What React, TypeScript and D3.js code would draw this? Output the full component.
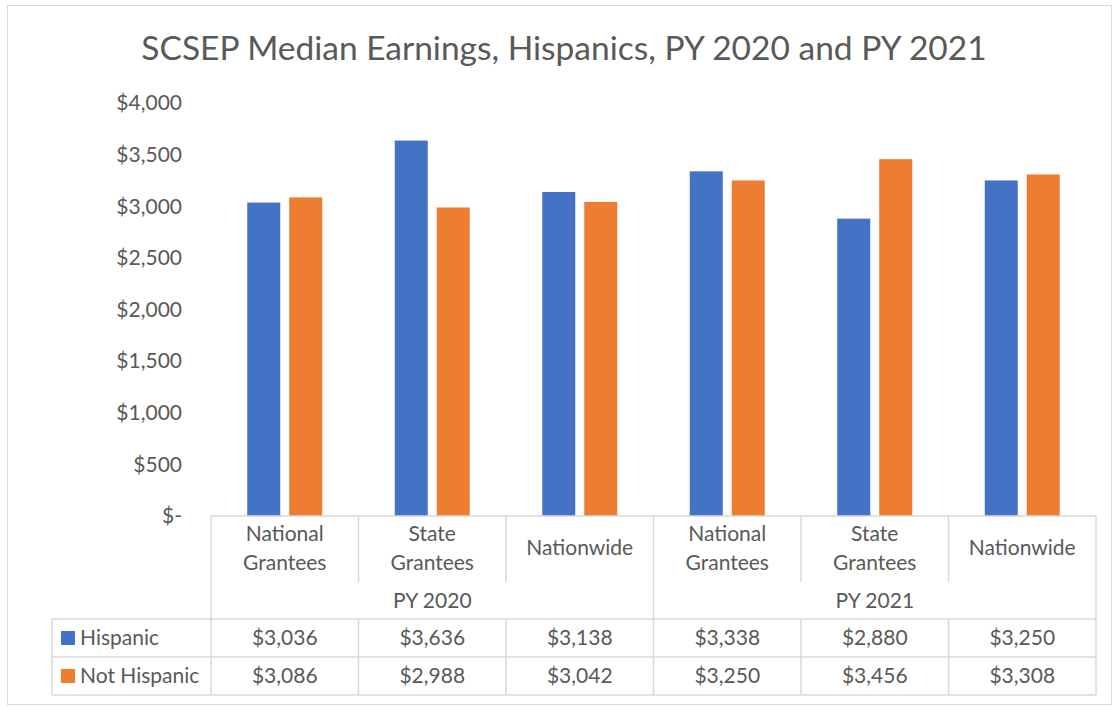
import React from "react";
import * as d3 from "d3";

const categories = [
  ["National", "Grantees"],
  ["State", "Grantees"],
  ["Nationwide"],
  ["National", "Grantees"],
  ["State", "Grantees"],
  ["Nationwide"],
];
const groups = ["PY 2020", "PY 2021"];
const seriesNames = ["Hispanic", "Not Hispanic"];
const hispanic = [3036, 3636, 3138, 3338, 2880, 3250];
const notHispanic = [3086, 2988, 3042, 3250, 3456, 3308];
const yTicks = [0, 500, 1000, 1500, 2000, 2500, 3000, 3500, 4000];
const colors = ["#4472C4", "#ED7D31"];

const W = 1113;
const H = 707;
const font = "Lato, 'Open Sans', sans-serif";
const textColor = "#595959";
const lineColor = "#d9d9d9";

const App = () => {
  const left = 211;
  const right = 1096;
  const base = 516;
  const catBottom = 582;
  const grpBottom = 619;
  const row1Bottom = 657;
  const row2Bottom = 695;
  const legendLeft = 52;

  const idx = d3.range(categories.length);
  const x0 = d3.scaleBand<number>().domain(idx).range([left, right]).padding(0);
  const groupW = 75;
  const x1 = d3
    .scaleBand<number>()
    .domain([0, 1])
    .range([0, groupW])
    .paddingInner(0.214)
    .paddingOuter(0);
  const y = d3.scaleLinear().domain([0, 4000]).range([base, 103]);

  const series = [hispanic, notHispanic];
  const fmtVal = (v: number) => "$" + d3.format(",")(v);
  const fmtTick = (v: number) => (v === 0 ? "$-" : "$" + d3.format(",")(v));
  const bounds = idx.map((i) => x0(i)!).concat([right]);
  const colCenter = (i: number) => x0(i)! + x0.bandwidth() / 2;
  const fs = 21;

  return (
    <svg
      width={W}
      height={H}
      style={{ position: "absolute", left: 0, top: 0, background: "#fff" }}
      fontFamily={font}
    >
      <rect x={7.5} y={5.5} width={W - 9} height={H - 8} fill="#fff" stroke={lineColor} strokeWidth={1} />
      <text x={564} y={60} textAnchor="middle" fontSize={33.5} fill={textColor}>
        SCSEP Median Earnings, Hispanics, PY 2020 and PY 2021
      </text>

      {/* y axis labels */}
      {yTicks.map((t) => (
        <text key={t} x={182} y={y(t)} dy="0.35em" textAnchor="end" fontSize={fs} fill={textColor}>
          {fmtTick(t)}
        </text>
      ))}

      {/* bars */}
      {series.map((vals, s) =>
        vals.map((v, i) => (
          <rect
            key={s + "-" + i}
            x={x0(i)! + (x0.bandwidth() - groupW) / 2 + x1(s)!}
            y={y(v)}
            width={x1.bandwidth()}
            height={base - y(v)}
            fill={colors[s]}
          />
        ))
      )}

      {/* data table lines */}
      <g stroke={lineColor} strokeWidth={1.5} fill="none">
        <line x1={left} x2={right} y1={base} y2={base} />
        {bounds.map((bx, i) => (
          <line key={"c" + i} x1={bx} x2={bx} y1={base} y2={catBottom} />
        ))}
        {[left, bounds[3], right].map((bx, i) => (
          <line key={"g" + i} x1={bx} x2={bx} y1={catBottom} y2={grpBottom} />
        ))}
        {[grpBottom, row1Bottom, row2Bottom].map((yy, i) => (
          <line key={"h" + i} x1={legendLeft} x2={right} y1={yy} y2={yy} />
        ))}
        {[legendLeft].concat(bounds).map((bx, i) => (
          <line key={"d" + i} x1={bx} x2={bx} y1={grpBottom} y2={row2Bottom} />
        ))}
      </g>

      {/* category labels */}
      {categories.map((lines, i) => (
        <text key={"cat" + i} x={colCenter(i)} textAnchor="middle" fontSize={fs} fill={textColor}>
          {lines.map((ln, j) => (
            <tspan
              key={j}
              x={colCenter(i)}
              y={(base + catBottom) / 2 + (j - (lines.length - 1) / 2) * 29 - 1}
              dy="0.35em"
            >
              {ln}
            </tspan>
          ))}
        </text>
      ))}

      {/* group labels */}
      {groups.map((g, k) => (
        <text
          key={g}
          x={(bounds[k * 3] + bounds[k * 3 + 3]) / 2}
          y={(catBottom + grpBottom) / 2}
          dy="0.35em"
          textAnchor="middle"
          fontSize={fs}
          fill={textColor}
        >
          {g}
        </text>
      ))}

      {/* series rows */}
      {series.map((vals, s) => {
        const top = s === 0 ? grpBottom : row1Bottom;
        const bottom = s === 0 ? row1Bottom : row2Bottom;
        const cy = (top + bottom) / 2;
        return (
          <g key={"row" + s}>
            <rect x={61} y={cy - 7} width={14} height={14} fill={colors[s]} />
            <text x={80} y={cy} dy="0.35em" fontSize={fs} fill={textColor}>
              {seriesNames[s]}
            </text>
            {vals.map((v, i) => (
              <text
                key={i}
                x={colCenter(i)}
                y={cy}
                dy="0.35em"
                textAnchor="middle"
                fontSize={fs}
                fill={textColor}
              >
                {fmtVal(v)}
              </text>
            ))}
          </g>
        );
      })}
    </svg>
  );
};

export default App;
